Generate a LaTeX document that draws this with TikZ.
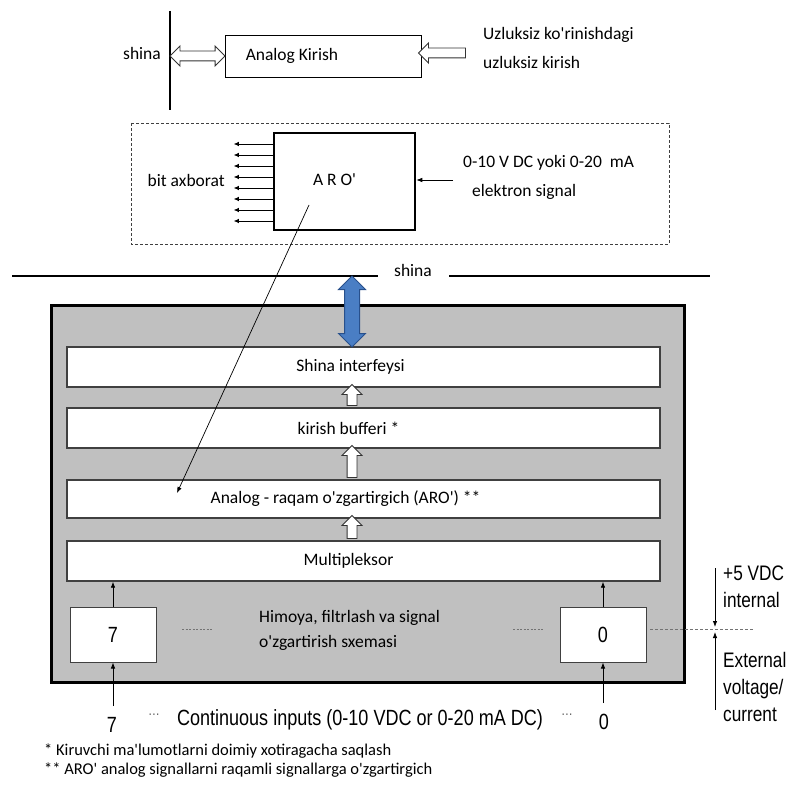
\documentclass[tikz,border=0pt]{standalone}
\usepackage{fontspec}
\setmainfont{Carlito}
\newfontfamily\narrowfont[FakeStretch=0.82]{Liberation Sans}
\usetikzlibrary{shapes, arrows, arrows.meta, positioning, calc}
\definecolor{boxgray}{RGB}{192,192,192}
\definecolor{busblue}{RGB}{74,126,196}
\definecolor{busedge}{RGB}{40,80,140}
\newcommand{\ap}{\textquotesingle}

\begin{document}
\begin{tikzpicture}[x=1pt, y=-1pt,
    every node/.style={font=\fontsize{17.5}{21}\selectfont},
    twoline/.style={font=\fontsize{17.5}{29}\selectfont, align=left, anchor=west, inner sep=0pt},
    narrowtxt/.style={font=\narrowfont\fontsize{21}{27}\selectfont, align=left, inner sep=0pt},
    layer/.style={draw=black!75, line width=1.3pt, fill=white, minimum width=593pt, minimum height=40pt, inner sep=0pt},
    chanbox/.style={draw=black!75, line width=1pt, fill=white, minimum width=86pt, minimum height=55pt, inner sep=0pt, font=\narrowfont\fontsize{22}{26}\selectfont},
    hollow/.style={single arrow, draw=black!80, fill=white, line width=0.9pt, inner xsep=0pt, inner ysep=4.5pt, single arrow head extend=5pt},
    thin/.style={line width=0.8pt, -{Latex[length=6pt, width=4.5pt]}},
    bit/.style={line width=0.8pt, -{Latex[length=5pt, width=4.5pt]}}
  ]
    \useasboundingbox (0,0) rectangle (794,794);

    % top part: analog input on the bus
    \coordinate (barT) at (170,11);
    \coordinate (barB) at (170,110);
    \draw[line width=2.5pt] (barT) -- (barB);
    \node (shinaA) at (142,53) {shina};

    \node[draw, line width=0.9pt, minimum width=196pt, minimum height=42pt, inner sep=0pt,
          label={[anchor=west, inner sep=0pt, xshift=21pt]west:Analog Kirish}] (akir) at (323,56) {};
    \node[hollow, double arrow, double arrow head extend=5pt, minimum height=55pt] (busio) at (197.5,56) {};
    \node[hollow, rotate=180, minimum height=47pt] (inarr) at (444.5,53) {};
    \node[twoline] (uzl) at (483,47.5) {Uzluksiz ko\ap rinishdagi\\uzluksiz kirish};

    % ARO detail
    \draw[dashed, dash pattern=on 3pt off 2pt, line width=0.9pt, black!75] (131,123) rectangle (669,244);
    \node[draw, line width=2.5pt, minimum width=141pt, minimum height=97pt, inner sep=0pt,
          label={[xshift=-10pt, yshift=2pt]center:A R O\ap}] (aro) at (344.5,181.5) {};
    \foreach \y in {144,155,166,177,188,199,210,221}
      \draw[bit] (aro.west |- {(0,\y)}) -- ++(-39,0);
    \node[anchor=east, inner sep=0pt] (bitax) at (225,180) {bit axborat};
    \coordinate (sigin) at (453,180);
    \draw[thin] (sigin) -- (sigin -| aro.east);
    \node[twoline] (sigtxt) at (463,177.5) {0-10 V DC yoki 0-20 \ mA\\\hspace*{9pt}elektron signal};

    % bus
    \draw[line width=2.5pt] (12,276) -- (378,276);
    \draw[line width=2.5pt] (449,276) -- (710,276);
    \node (shinaB) at (413,270) {shina};

    % input module
    \node[draw, line width=3pt, fill=boxgray, minimum width=633pt, minimum height=377pt] (modul) at (367.5,493.5) {};
    \node[layer, label={[xshift=-13pt]center:Shina interfeysi}] (shi) at (363.5,367) {};
    \node[layer, label={[xshift=-15pt]center:kirish bufferi *}] (buf) at (363.5,428) {};
    \node[layer, minimum height=38pt, label={[xshift=-18pt]center:Analog - raqam o\ap zgartirgich (ARO\ap) **}] (adc) at (363.5,499) {};
    \node[layer, label={[xshift=-15pt]center:Multipleksor}] (mux) at (363.5,561) {};

    \node[double arrow, rotate=90, draw=busedge, fill=busblue, line width=1pt, inner xsep=0pt, inner ysep=7pt,
          double arrow head extend=6pt, minimum height=71pt] (busarr) at (352,311.5) {};
    \node[hollow, rotate=90, minimum height=21pt] (ar1) at (352,397.5) {};
    \node[hollow, rotate=90, minimum height=32pt] (ar2) at (352,464) {};
    \node[hollow, rotate=90, minimum height=23pt] (ar3) at (352,529.5) {};

    \coordinate (aroin) at (309,205);
    \coordinate (adcin) at (177,493);
    \draw[line width=0.7pt, -{Latex[length=6pt, width=4.5pt]}] (aroin) -- (adcin);

    % channels
    \node[chanbox] (ch7) at (113,634.5) {7};
    \node[chanbox] (ch0) at (603,634.5) {0};
    \node[twoline, font=\fontsize{17.5}{25}\selectfont] (prot) at (259,630.5) {Himoya, filtrlash va signal\\o\ap zgartirish sxemasi};
    \draw[black!55, line width=0.8pt, dash pattern=on 2pt off 1.5pt] (182,629) -- (212,629);
    \draw[black!55, line width=0.8pt, dash pattern=on 2pt off 1.5pt] (513,629) -- (543,629);
    \draw[thin] (ch7.north) -- (ch7.north |- mux.south);
    \draw[thin] (ch0.north) -- (ch0.north |- mux.south);

    \node[narrowtxt, font=\narrowfont\fontsize{22}{26}\selectfont] (in7) at (112,725) {7};
    \node[narrowtxt, font=\narrowfont\fontsize{22}{26}\selectfont] (in0) at (604,722) {0};
    \draw[thin] (ch7.south |- 0,706) -- (ch7.south);
    \draw[thin] (ch0.south |- 0,703) -- (ch0.south);
    \node[narrowtxt, text=black!70, font=\narrowfont\fontsize{14}{16}\selectfont] (dl) at (154,716) {···};
    \node[narrowtxt, text=black!70, font=\narrowfont\fontsize{14}{16}\selectfont] (dr) at (567,716) {···};
    \node[narrowtxt, font=\narrowfont\fontsize{22}{26}\selectfont] (cont) at (360,720) {Continuous inputs (0-10 VDC or 0-20 mA DC)};

    % supply
    \coordinate (vdcT) at (715,568);
    \coordinate (vdcB) at (715,710);
    \coordinate (sepL) at (650,629);
    \coordinate (sepR) at (753,629);
    \draw[thin] (vdcT) -- ($(sepL -| vdcT)+(0,-2)$);
    \draw[thin] (vdcB) -- ($(sepL -| vdcT)+(0,3)$);
    \draw[black!55, line width=0.8pt, dash pattern=on 3pt off 2pt] (sepL) -- (sepR);
    \node[narrowtxt, anchor=west] (intl) at (723,586.5) {+5 VDC\\internal};
    \node[narrowtxt, anchor=west] (extl) at (723,687) {External\\voltage/\\current};

    % notes
    \node[twoline, font=\fontsize{16.5}{19}\selectfont] (notes) at (44,761) {* Kiruvchi ma\ap lumotlarni doimiy xotiragacha saqlash\\** ARO\ap{} analog signallarni raqamli signallarga o\ap zgartirgich};
\end{tikzpicture}
\end{document}
